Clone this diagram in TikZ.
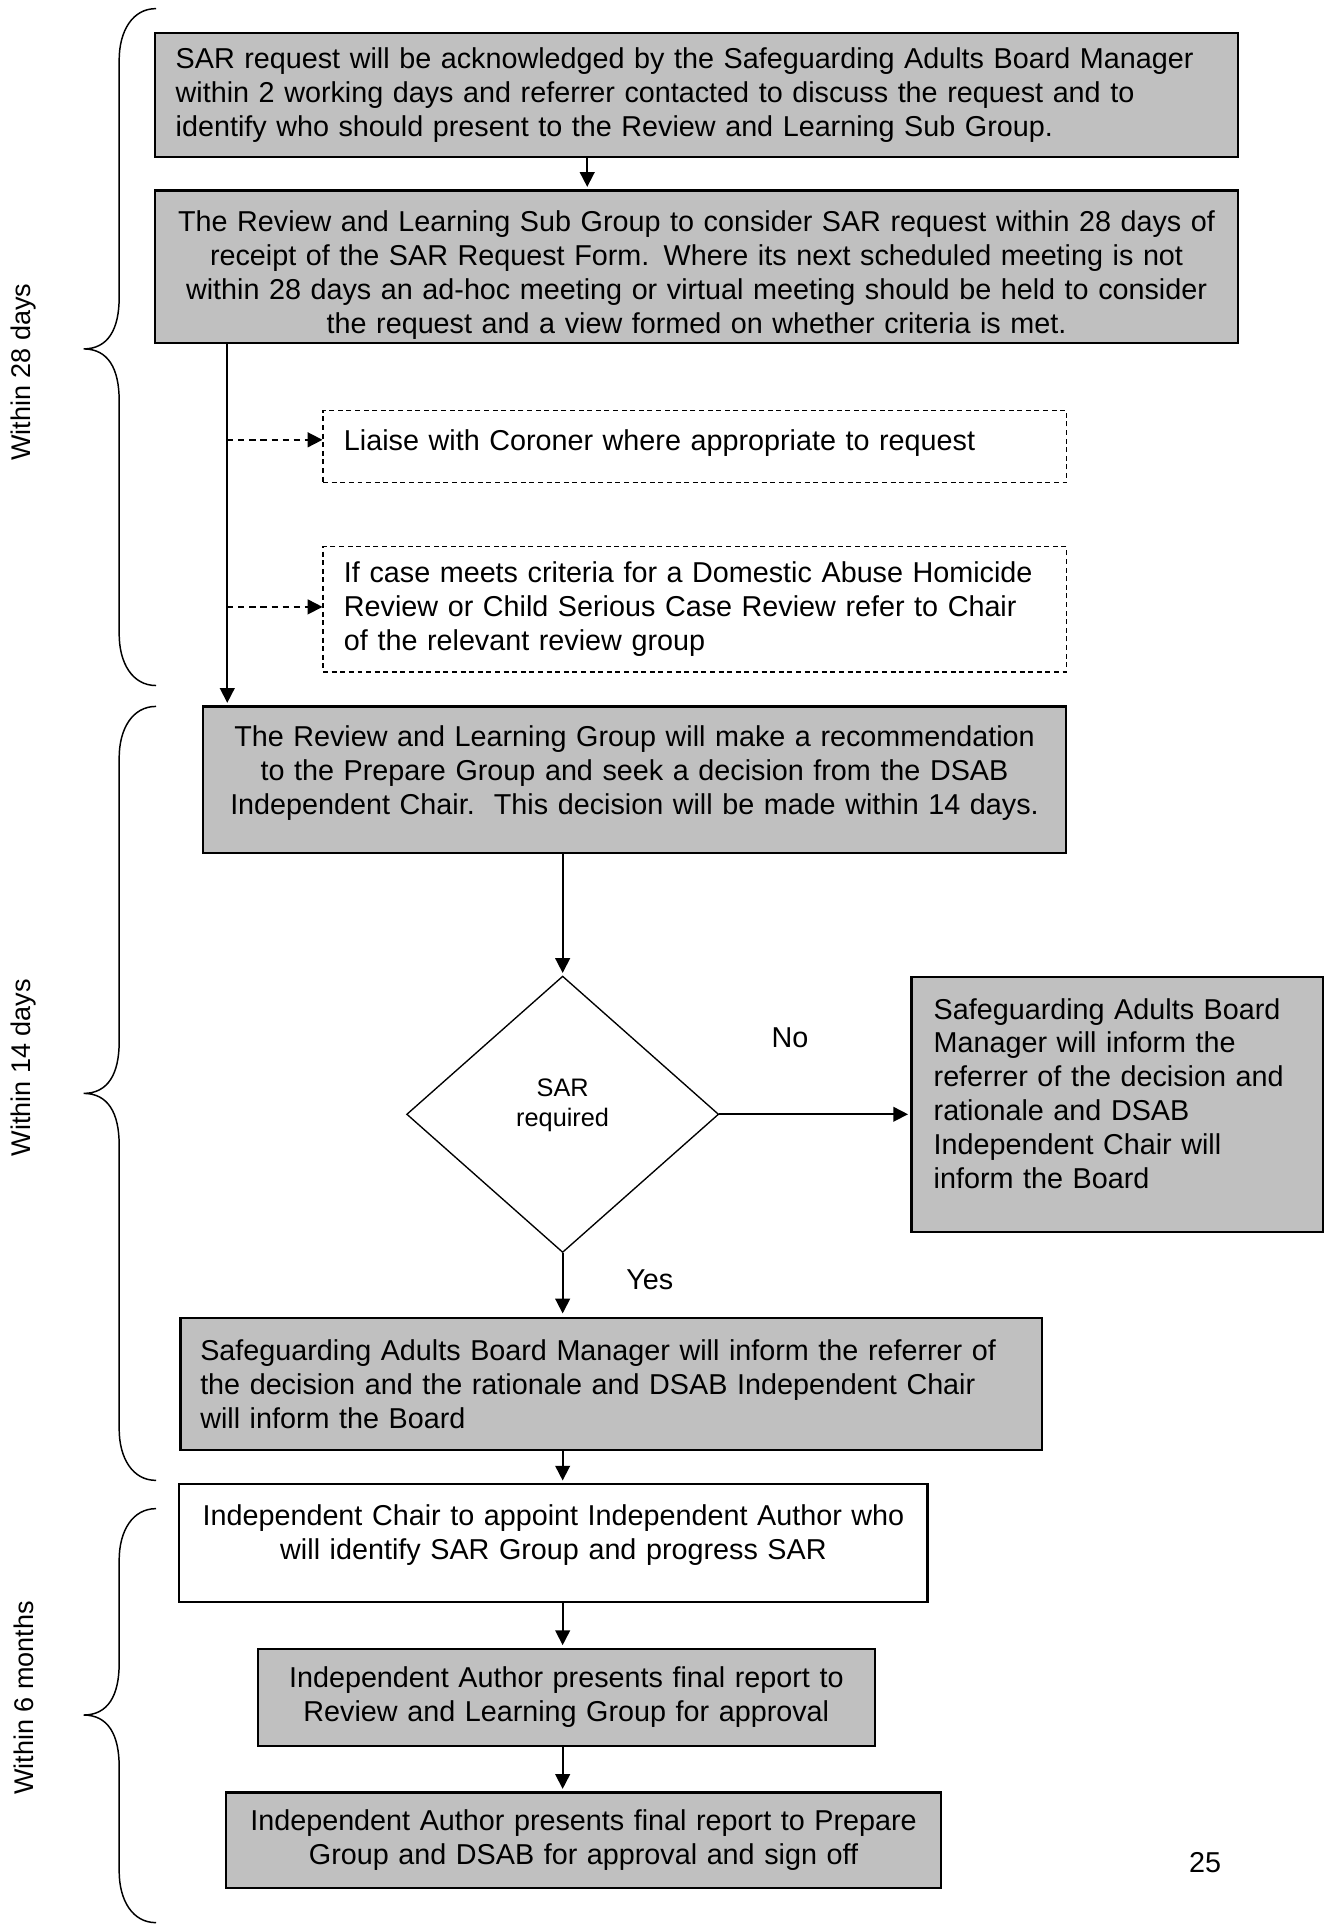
\documentclass[tikz,border=0pt]{standalone}
\usepackage{fontspec}
\setmainfont{Liberation Sans}
\usetikzlibrary{shapes.geometric,arrows.meta}
\definecolor{boxgray}{RGB}{192,192,192}
\begin{document}
\begin{tikzpicture}
    [
    x=0.5pt,y=-0.5pt,line width=0.7pt,>={Triangle[length=6pt,width=6pt]},
    font=\fontsize{11.7pt}{13.8pt}\selectfont,
    stage/.style={rectangle,draw,line width=0.9pt,fill=boxgray,inner ysep=0pt},
    whitebox/.style={stage,fill=white},
    note/.style={rectangle,draw,line width=0.5pt,dash pattern=on 2pt off 1.5pt,inner ysep=0pt},
    decision/.style={diamond,draw,line width=0.55pt,inner sep=0pt,minimum width=127pt,minimum height=112.5pt,align=center,font=\fontsize{10.3pt}{12.5pt}\selectfont},
    span/.style={rotate=90,font=\fontsize{11pt}{13pt}\selectfont}
    ]
    \useasboundingbox (0,0) rectangle (1085,1571);
    \node (ack) at (567,77.5) [stage,minimum width=441pt,minimum height=50.5pt,text width=424pt,inner xsep=8.5pt,align=left] {SAR request will be acknowledged by the Safeguarding Adults Board Manager\\ within 2 working days and referrer contacted to discuss the request and to\\ identify who should present to the Review and Learning Sub Group.};
    \node (consider) at (567,217) [stage,minimum width=441pt,minimum height=62pt,text width=433pt,inner xsep=4pt,align=center,text depth=37pt] {The Review and Learning Sub Group to consider SAR request within 28 days of\\ receipt of the SAR Request Form. Where its next scheduled meeting is not\\ within 28 days an ad-hoc meeting or virtual meeting should be held to consider\\ the request and a view formed on whether criteria is met.};
    \node (coroner) at (565.5,363.5) [note,minimum width=302.5pt,minimum height=29.5pt,text width=285.5pt,inner xsep=8.5pt,align=left,text depth=5pt] {Liaise with Coroner where appropriate to request};
    \node (dahr) at (565.5,496) [note,minimum width=302.5pt,minimum height=51pt,text width=285.5pt,inner xsep=8.5pt,align=left] {If case meets criteria for a Domestic Abuse Homicide\\ Review or Child Serious Case Review refer to Chair\\ of the relevant review group};
    \node (recommend) at (516.5,634.5) [stage,minimum width=351.5pt,minimum height=59.5pt,text width=341.5pt,inner xsep=5pt,align=center,text depth=35pt] {The Review and Learning Group will make a recommendation\\ to the Prepare Group and seek a decision from the DSAB\\ Independent Chair.\ \ This decision will be made within 14 days.};
    \node (sar) at (458,907) [decision,text depth=9.5pt] {SAR\\ required};
    \node (inform) at (909.5,899) [stage,minimum width=167.5pt,minimum height=104pt,text width=149.5pt,inner xsep=9pt,align=left,text depth=78pt] {Safeguarding Adults Board\\ Manager will inform the\\ referrer of the decision and\\ rationale and DSAB\\ Independent Chair will\\ inform the Board};
    \node (informyes) at (497.5,1126.5) [stage,minimum width=350.5pt,minimum height=53.5pt,text width=334.5pt,inner xsep=8pt,align=left] {Safeguarding Adults Board Manager will inform the referrer of\\ the decision and the rationale and DSAB Independent Chair\\ will inform the Board};
    \node (appoint) at (450.5,1256) [whitebox,minimum width=304.5pt,minimum height=48pt,text width=294.5pt,inner xsep=5pt,align=center,text depth=23pt] {Independent Chair to appoint Independent Author who\\ will identify SAR Group and progress SAR};
    \node (approval) at (461,1381.5) [stage,minimum width=251pt,minimum height=39.5pt,text width=241pt,inner xsep=5pt,align=center] {Independent Author presents final report to\\ Review and Learning Group for approval};
    \node (signoff) at (475,1498) [stage,minimum width=291pt,minimum height=39pt,text width=281pt,inner xsep=5pt,align=center] {Independent Author presents final report to Prepare\\ Group and DSAB for approval and sign off};
    \node (no) at (643,845) {No};
    \node (yes) at (529,1042) {Yes};
    \node (page) at (981,1516) {25};
    \node (d28) at (19,303) [span] {Within 28 days};
    \node (d14) at (19,869) [span] {Within 14 days};
    \node (m6) at (19,1382) [span] {Within 6 months};
    \coordinate (tap1) at (185,358);
    \coordinate (tap2) at (185,494);
    \draw [->, shorten >=1pt] ([xshift=-44.5pt]ack.south) -- ([xshift=-44.5pt]consider.north);
    \draw [->, shorten >=1pt] ([xshift=-191pt]consider.south) -- ([xshift=-165.75pt]recommend.north);
    \draw [->, dash pattern=on 2.5pt off 2pt] (tap1) -- (tap1 -| coroner.west);
    \draw [->, dash pattern=on 2.5pt off 2pt] (tap2) -- (tap2 -| dahr.west);
    \draw [->, shorten >=1pt] (recommend.south -| sar.north) -- (sar.north);
    \draw [->, shorten >=1pt] (sar.east) -- (sar.east -| inform.west);
    \draw [->, shorten >=1.5pt] (sar.south) -- (sar.south |- informyes.north);
    \draw [->, shorten >=1pt] (informyes.south -| sar.south) -- (appoint.north -| sar.south);
    \draw [->, shorten >=1pt] (appoint.south -| sar.south) -- (approval.north -| sar.south);
    \draw [->, shorten >=1pt] (approval.south -| sar.south) -- (signoff.north -| sar.south);
    \draw [line width=0.6pt] (127,7) .. controls (108,7) and (97,25) .. (97,49) -- (97,242) .. controls (97,268) and (88,284) .. (68,284) .. controls (88,284) and (97,300) .. (97,326) -- (97,516) .. controls (97,540) and (108,558) .. (127,558);
    \draw [line width=0.6pt] (127,575) .. controls (108,575) and (97,593) .. (97,617) -- (97,848) .. controls (97,874) and (88,890) .. (68,890) .. controls (88,890) and (97,906) .. (97,932) -- (97,1163) .. controls (97,1187) and (108,1205) .. (127,1205);
    \draw [line width=0.6pt] (127,1228) .. controls (108,1228) and (97,1246) .. (97,1270) -- (97,1354) .. controls (97,1380) and (88,1396) .. (68,1396) .. controls (88,1396) and (97,1412) .. (97,1438) -- (97,1523) .. controls (97,1547) and (108,1565) .. (127,1565);
  \end{tikzpicture}
\end{document}
